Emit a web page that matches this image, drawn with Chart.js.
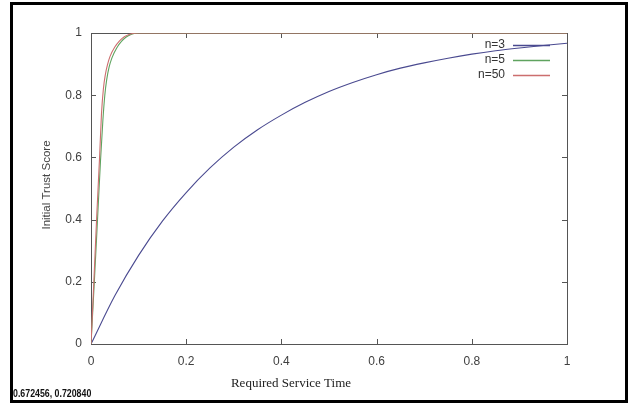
<!DOCTYPE html>
<html><head><meta charset="utf-8">
<script src="https://cdn.jsdelivr.net/npm/chart.js@4.4.1/dist/chart.umd.min.js"></script>
<style>
html,body{margin:0;padding:0;background:#fff;}
#wrap{position:relative;width:629px;height:403px;overflow:hidden;background:#fff;}
#frame{position:absolute;left:10px;top:2px;width:612px;height:395px;border:3px solid #000;pointer-events:none;}
#coord{position:absolute;left:13px;top:389px;font:bold 10px/10px "Liberation Sans",Arial,sans-serif;color:#111;transform:scaleX(0.88);transform-origin:left top;white-space:nowrap;}
canvas{position:absolute;left:0;top:0;}
</style></head>
<body>
<div id="wrap">
<canvas id="c" width="629" height="403"></canvas>
<div id="frame"></div>
<div id="coord">0.672456, 0.720840</div>
</div>
<script>
// ---- data ----
const seriesNames = ['n=3', 'n=5', 'n=50'];
const n3X = [0, 0.05, 0.1, 0.15, 0.2, 0.25, 0.3, 0.35, 0.4, 0.45, 0.5, 0.55, 0.6, 0.65, 0.7, 0.75, 0.8, 0.85, 0.9, 0.95, 1.0];
const n3Y = [0, 0.155, 0.285, 0.395, 0.487, 0.566, 0.633, 0.689, 0.736, 0.777, 0.812, 0.841, 0.866, 0.887, 0.904, 0.919, 0.932, 0.943, 0.952, 0.960, 0.967];
const n5X = [0, 0.007, 0.014, 0.02, 0.025, 0.029, 0.033, 0.038, 0.044, 0.054, 0.064, 0.074, 0.084, 0.094, 0.105, 1.0];
const n5Y = [0, 0.2, 0.41, 0.59, 0.72, 0.8, 0.85, 0.89, 0.92, 0.952, 0.973, 0.987, 0.995, 0.999, 1, 1];
const n50X = [0, 0.006, 0.012, 0.018, 0.022, 0.026, 0.03, 0.035, 0.04, 0.05, 0.06, 0.07, 0.08, 0.09, 0.1, 1.0];
const n50Y = [0, 0.2, 0.41, 0.6, 0.74, 0.82, 0.865, 0.9, 0.925, 0.955, 0.975, 0.988, 0.995, 0.999, 1, 1];
const xTickValues = [0, 0.2, 0.4, 0.6, 0.8, 1];
const xTickLabels = ['0', '0.2', '0.4', '0.6', '0.8', '1'];
const yTickValues = [0, 0.2, 0.4, 0.6, 0.8, 1];
const yTickLabels = ['0', '0.2', '0.4', '0.6', '0.8', '1'];
const xTitle = 'Required Service Time';
const yTitle = 'Initial Trust Score';

const colors = ['#4a4a90', '#5fa35f', '#cc6e6e'];
const tickFont = '"Liberation Sans", Arial, sans-serif';
function pts(xs, ys){ return xs.map((x,i)=>({x:x, y:ys[i]})); }

const framePlugin = {
  id: 'gnuFrame',
  beforeDatasetsDraw(chart){
    const {ctx, chartArea:a, scales} = chart;
    ctx.save();
    ctx.strokeStyle = '#555';
    ctx.lineWidth = 1;
    ctx.strokeRect(Math.round(a.left)+0.5, Math.round(a.top)+0.5, Math.round(a.right-a.left), Math.round(a.bottom-a.top));
    ctx.beginPath();
    const L = 5;
    xTickValues.forEach(v=>{
      const x = Math.round(scales.x.getPixelForValue(v))+0.5;
      ctx.moveTo(x, a.bottom); ctx.lineTo(x, a.bottom - L);
      ctx.moveTo(x, a.top); ctx.lineTo(x, a.top + L);
    });
    yTickValues.forEach(v=>{
      const y = Math.round(scales.y.getPixelForValue(v))+0.5;
      ctx.moveTo(a.left, y); ctx.lineTo(a.left + L, y);
      ctx.moveTo(a.right, y); ctx.lineTo(a.right - L, y);
    });
    ctx.stroke();
    ctx.restore();
  },
  afterDatasetsDraw(chart){
    const {ctx, chartArea:a} = chart;
    ctx.save();
    // legend
    ctx.font = '12px ' + tickFont;
    ctx.textAlign = 'right';
    ctx.textBaseline = 'middle';
    chart.data.datasets.forEach((ds,i)=>{
      const y = Math.round(a.top + 12 + i*15);
      ctx.fillStyle = '#333';
      ctx.fillText(ds.label, a.right - 62, y);
      ctx.strokeStyle = colors[i];
      ctx.lineWidth = 1.4;
      ctx.beginPath();
      ctx.moveTo(a.right - 54, y+0.5); ctx.lineTo(a.right - 17, y+0.5);
      ctx.stroke();
    });
    // axis titles
    ctx.fillStyle = '#222';
    ctx.font = '13px "Liberation Serif", "Times New Roman", serif';
    ctx.textAlign = 'center';
    ctx.textBaseline = 'alphabetic';
    ctx.fillText(xTitle, a.left + 200, 387);
    ctx.save();
    ctx.translate(47, 185);
    ctx.rotate(-Math.PI/2);
    ctx.fillStyle = '#444';
    ctx.font = '11.5px "Liberation Sans", Arial, sans-serif';
    ctx.textBaseline = 'middle';
    ctx.fillText(yTitle, 0, 0);
    ctx.restore();
    ctx.restore();
  }
};

new Chart(document.getElementById('c'), {
  type: 'scatter',
  data: {
    datasets: [
      {label: seriesNames[0], data: pts(n3X, n3Y), borderColor: colors[0], order: 3},
      {label: seriesNames[1], data: pts(n5X, n5Y), borderColor: colors[1], order: 2},
      {label: seriesNames[2], data: pts(n50X, n50Y), borderColor: colors[2], order: 1}
    ].map(d=>Object.assign(d, {showLine:true, pointRadius:0, borderWidth:1.1, backgroundColor:d.borderColor, cubicInterpolationMode:'monotone', fill:false}))
  },
  options: {
    responsive: false,
    animation: false,
    devicePixelRatio: 1,
    layout: {padding: {left: 0, right: 62, top: 33, bottom: 0}},
    plugins: {legend: {display: false}, tooltip: {enabled: false}},
    scales: {
      x: {
        type: 'linear', min: 0, max: 1,
        grid: {display: false, drawTicks: false},
        border: {display: false},
        afterFit(s){ s.height = 59; },
        afterBuildTicks(s){ s.ticks = xTickValues.map(v=>({value:v})); },
        ticks: {padding: 10, color: '#404040', font: {family: tickFont, size: 12},
          callback: (v, i) => xTickLabels[i], maxRotation: 0, autoSkip: false}
      },
      y: {
        type: 'linear', min: 0, max: 1,
        grid: {display: false, drawTicks: false},
        border: {display: false},
        afterFit(s){ s.width = 91; },
        afterBuildTicks(s){ s.ticks = yTickValues.map(v=>({value:v})); },
        ticks: {padding: 9, color: '#404040', font: {family: tickFont, size: 12},
          callback: (v, i) => yTickLabels[i], autoSkip: false}
      }
    }
  },
  plugins: [framePlugin]
});
</script>
</body></html>
